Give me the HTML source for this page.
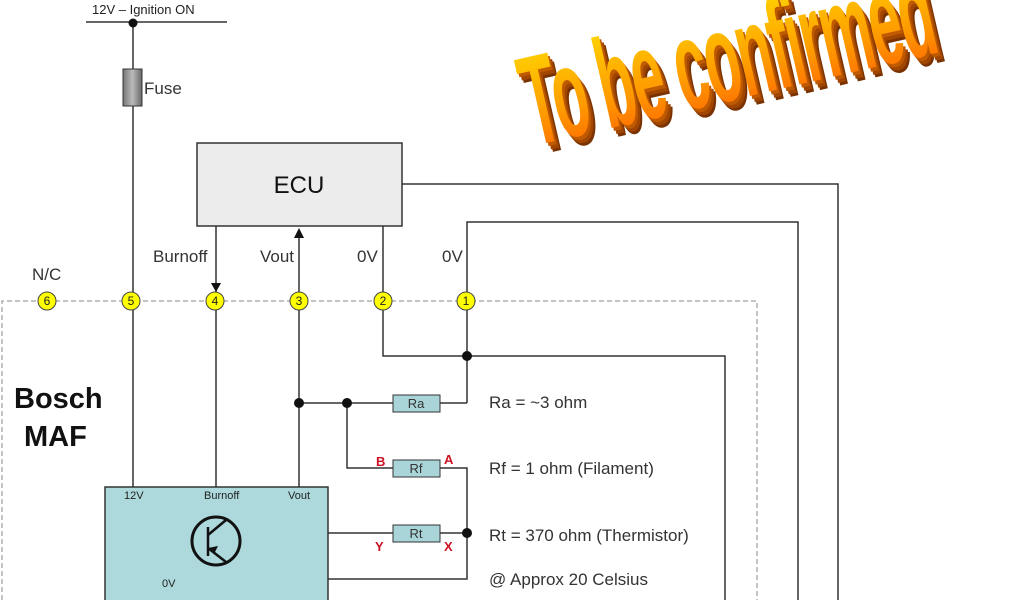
<!DOCTYPE html>
<html><head><meta charset="utf-8"><style>
html,body{margin:0;padding:0;background:#fff;}
svg{display:block;font-family:"Liberation Sans",sans-serif;}
</style></head><body>
<svg width="1024" height="600" viewBox="0 0 1024 600" xmlns="http://www.w3.org/2000/svg">
<defs>
<linearGradient id="og" x1="0" y1="0" x2="0" y2="1">
<stop offset="0" stop-color="#ffe000"/><stop offset="0.6" stop-color="#ff9a00"/><stop offset="1" stop-color="#ff5a00"/>
</linearGradient>
<linearGradient id="fg" x1="0" y1="0" x2="1" y2="0">
<stop offset="0" stop-color="#777"/><stop offset="0.5" stop-color="#bbb"/><stop offset="1" stop-color="#666"/>
</linearGradient>
</defs>
<g fill="none" stroke="#333" stroke-width="1.5">
<line x1="86" y1="22" x2="227" y2="22"/>
<line x1="133" y1="22" x2="133" y2="487"/>
<polyline points="402,184 838,184 838,600"/>
<polyline points="467,301 467,222 798,222 798,600"/>
<line x1="216" y1="226" x2="216" y2="487"/>
<line x1="299" y1="232" x2="299" y2="487"/>
<polyline points="383,226 383,356 725,356 725,600"/>
<line x1="467" y1="301" x2="467" y2="403"/>
<line x1="440" y1="403" x2="467" y2="403"/>
<line x1="299" y1="403" x2="393" y2="403"/>
<polyline points="347,403 347,468 393,468"/>
<polyline points="440,468 467,468 467,579 328,579"/>
<line x1="328" y1="533" x2="393" y2="533"/>
<line x1="440" y1="533" x2="467" y2="533"/>
</g>
<polyline points="2,600 2,301 757,301 757,600" fill="none" stroke="#888" stroke-width="1" stroke-dasharray="5,3"/>
<rect x="123" y="69" width="19" height="37" fill="url(#fg)" stroke="#333" stroke-width="1"/>
<text x="144" y="94" font-size="17" fill="#333">Fuse</text>
<text x="92" y="14" font-size="13" fill="#222">12V – Ignition ON</text>
<circle cx="133" cy="23" r="4.5" fill="#111"/>
<rect x="197" y="143" width="205" height="83" fill="#ececec" stroke="#333" stroke-width="1.5"/>
<text x="299" y="193" font-size="24" fill="#111" text-anchor="middle">ECU</text>
<polygon points="211,283 221,283 216,292" fill="#111"/>
<polygon points="294,238 304,238 299,228" fill="#111"/>
<g font-size="17" fill="#333">
<text x="153" y="262">Burnoff</text>
<text x="260" y="262">Vout</text>
<text x="357" y="262">0V</text>
<text x="442" y="262">0V</text>
<text x="32" y="280">N/C</text>
</g>
<g stroke="#444" stroke-width="1" fill="#ffff00">
<circle cx="47" cy="301" r="9"/><circle cx="131" cy="301" r="9"/><circle cx="215" cy="301" r="9"/>
<circle cx="299" cy="301" r="9"/><circle cx="383" cy="301" r="9"/><circle cx="466" cy="301" r="9"/>
</g>
<g font-size="12" fill="#222" text-anchor="middle">
<text x="47" y="305">6</text><text x="131" y="305">5</text><text x="215" y="305">4</text>
<text x="299" y="305">3</text><text x="383" y="305">2</text><text x="466" y="305">1</text>
</g>
<g fill="#111">
<circle cx="467" cy="356" r="5"/><circle cx="299" cy="403" r="5"/><circle cx="347" cy="403" r="5"/><circle cx="467" cy="533" r="5"/>
</g>
<text x="14" y="408" font-size="29" font-weight="bold" fill="#111">Bosch</text>
<text x="24" y="446" font-size="29" font-weight="bold" fill="#111">MAF</text>
<g fill="#a9d4d8" stroke="#333" stroke-width="1">
<rect x="393" y="395" width="47" height="17"/><rect x="393" y="460" width="47" height="17"/><rect x="393" y="525" width="47" height="17"/>
</g>
<g font-size="13" fill="#333" text-anchor="middle">
<text x="416" y="408">Ra</text><text x="416" y="473">Rf</text><text x="416" y="538">Rt</text>
</g>
<g font-size="13" font-weight="bold" fill="#cc1122">
<text x="376" y="466">B</text><text x="444" y="464">A</text><text x="375" y="551">Y</text><text x="444" y="551">X</text>
</g>
<g font-size="17" fill="#333">
<text x="489" y="408">Ra = ~3 ohm</text>
<text x="489" y="474">Rf = 1 ohm (Filament)</text>
<text x="489" y="541">Rt = 370 ohm (Thermistor)</text>
<text x="489" y="585">@ Approx 20 Celsius</text>
</g>
<rect x="105" y="487" width="223" height="120" fill="#add8dc" stroke="#333" stroke-width="1.5"/>
<g font-size="11" fill="#222">
<text x="124" y="499">12V</text><text x="204" y="499">Burnoff</text><text x="288" y="499">Vout</text><text x="162" y="587">0V</text>
</g>
<circle cx="216" cy="541" r="24" fill="none" stroke="#111" stroke-width="3"/>
<g stroke="#111" stroke-width="2.5" fill="none">
<line x1="208" y1="527" x2="208" y2="556"/>
<line x1="208" y1="535" x2="226" y2="520"/>
<line x1="208" y1="548" x2="226" y2="562"/>
</g>
<polygon points="208,548 218,546 214,554" fill="#111"/>
<g transform="translate(533,146) rotate(-13) scale(0.66,1.45)" font-family="'Liberation Sans Narrow','Liberation Sans',sans-serif" font-weight="bold" font-size="88" letter-spacing="-3">
<text x="7" y="7" fill="#7a3200">To be confirmed</text>
<text x="5" y="5" fill="#a04600">To be confirmed</text>
<text x="2.5" y="2.5" fill="#c05a00">To be confirmed</text>
<text x="0" y="0" fill="url(#og)">To be confirmed</text>
</g>
</svg>
</body></html>
